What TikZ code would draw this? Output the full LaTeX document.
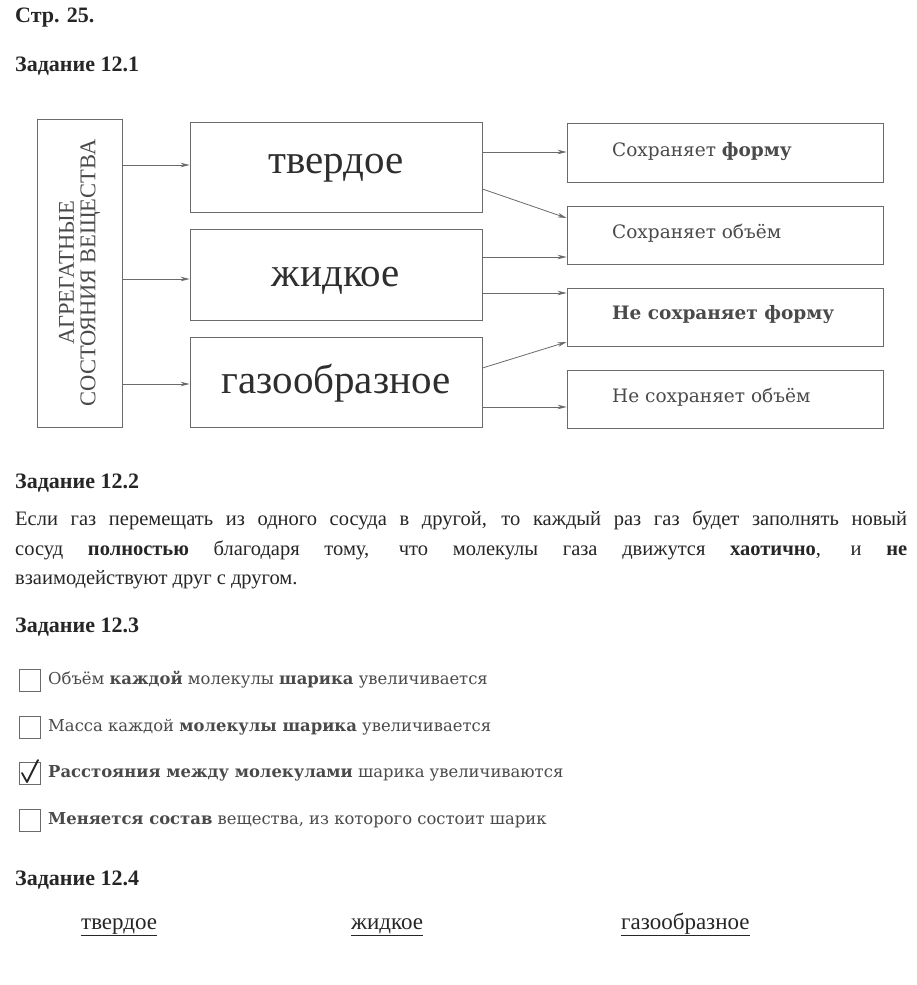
\documentclass[tikz,border=0pt]{standalone}
\usepackage{fontspec}
\setmainfont{Liberation Serif}
\newfontfamily\bookfont{DejaVu Serif}
\usetikzlibrary{arrows.meta,calc}
\definecolor{linegray}{HTML}{6A6A6A}
\definecolor{boxtext}{HTML}{2E2E2E}
\definecolor{booktext}{HTML}{4A4A4A}
\begin{document}
\begin{tikzpicture}[x=1pt,y=-1pt,
  box/.style={draw=linegray, line width=0.9pt, inner sep=0pt},
  arr/.style={draw=linegray, line width=0.8pt, -{Stealth[length=9pt,width=4.5pt]}},
  hd/.style={anchor=west, inner sep=0pt, font=\fontsize{22}{26}\selectfont\bfseries, text=black!85},
  midtext/.style={anchor=base, inner sep=0pt, font=\fontsize{41}{44}\selectfont, text=boxtext},
  rtext/.style={anchor=west, inner sep=0pt, font=\bookfont\fontsize{18.5}{22}\selectfont, text=booktext},
  itemtext/.style={anchor=west, inner sep=0pt, font=\bookfont\fontsize{16.4}{19}\selectfont, text=booktext},
  cbox/.style={draw=linegray, line width=0.8pt, minimum width=21pt, minimum height=22pt, inner sep=0pt},
  ans/.style={anchor=base west, inner sep=0pt, font=\fontsize{23}{26}\selectfont, text=black!85}
]
\fill[white] (0,0) rectangle (917,985);
\useasboundingbox (0,0) rectangle (917,985);

% headings
\node[hd] (h0) at (15,18) {Стр. 25.};
\node[hd] (h1) at (15,66) {Задание 12.1};
\node[hd] (h2) at (15,483) {Задание 12.2};
\node[hd] (h3) at (15,627) {Задание 12.3};
\node[hd] (h4) at (15,880) {Задание 12.4};

% diagram 12.1
\node[box, minimum width=85pt, minimum height=308pt] (L) at (79.5,273) {};
\node[rotate=90, align=center, inner sep=0pt, text=booktext,
      font=\fontsize{22.5}{21.5}\selectfont] (Lt) at (L.center) {АГРЕГАТНЫЕ\\СОСТОЯНИЯ ВЕЩЕСТВА};

\node[box, minimum width=292pt, minimum height=90pt] (S) at (336,167) {};
\node[box, minimum width=292pt, minimum height=91pt] (Lq) at (336,274.5) {};
\node[box, minimum width=292pt, minimum height=90pt] (G) at (336,382) {};
\node[midtext] (St) at ($(S.center)+(0,6)$) {твердое};
\node[midtext] (Lqt) at ($(Lq.center)+(0,12)$) {жидкое};
\node[midtext] (Gt) at ($(G.center)+(0,11)$) {газообразное};

\node[box, minimum width=316pt, minimum height=59pt] (R1) at (725,152.5) {};
\node[box, minimum width=316pt, minimum height=58pt] (R2) at (725,235) {};
\node[box, minimum width=316pt, minimum height=58pt] (R3) at (725,317) {};
\node[box, minimum width=316pt, minimum height=58pt] (R4) at (725,399) {};
\node[rtext] (R1t) at (612,152) {Сохраняет \textbf{форму}};
\node[rtext] (R2t) at (612,233) {Сохраняет объём};
\node[rtext] (R3t) at (612,315) {\textbf{Не сохраняет форму}};
\node[rtext] (R4t) at (612,397) {Не сохраняет объём};

% arrows left -> middle
\draw[arr] ($(L.east)+(0,-108)$) coordinate (a1) -- (a1 -| S.west);
\draw[arr] ($(L.east)+(0,6)$) coordinate (a2) -- (a2 -| Lq.west);
\draw[arr] ($(L.east)+(0,111)$) coordinate (a3) -- (a3 -| G.west);

% arrows middle -> right
\draw[arr] ($(S.east)+(0,-15)$) coordinate (b1) -- (b1 -| R1.west);
\draw[arr] ($(S.east)+(0,22)$) -- ($(R2.west)+(0,-17)$);
\draw[arr] ($(Lq.east)+(0,-17.5)$) coordinate (b3) -- (b3 -| R2.west);
\draw[arr] ($(Lq.east)+(0,18.5)$) coordinate (b4) -- (b4 -| R3.west);
\draw[arr] ($(G.east)+(0,-14)$) -- ($(R3.west)+(0,25)$);
\draw[arr] ($(G.east)+(0,25)$) coordinate (b6) -- (b6 -| R4.west);

% 12.2 paragraph
\node[anchor=north west, inner sep=0pt, text width=892pt, align=justify,
      font=\fontsize{20.5}{29.5}\selectfont, text=black!85] (P) at (15,511)
 {Если газ перемещать из одного сосуда в другой, то каждый раз газ будет заполнять новый\linebreak
  сосуд \textbf{полностью} благодаря тому, что молекулы газа движутся \textbf{хаотично}, и \textbf{не}\linebreak
  взаимодействуют друг с другом.};

% 12.3 checklist
\node[cbox] (c1) at (30,680) {};
\node[cbox] (c2) at (30,727) {};
\node[cbox] (c3) at (30,773) {};
\node[cbox] (c4) at (30,820) {};
\node[itemtext] (t1) at (48,680) {Объём \textbf{каждой} молекулы \textbf{шарика} увеличивается};
\node[itemtext] (t2) at (48,727) {Масса каждой \textbf{молекулы шарика} увеличивается};
\node[itemtext] (t3) at (48,773) {\textbf{Расстояния между молекулами} шарика увеличиваются};
\node[itemtext] (t4) at (48,820) {\textbf{Меняется состав} вещества, из которого состоит шарик};
\draw[black!85, line width=1.8pt, line join=round, line cap=round]
  ($(c3.center)+(-8,0)$) -- ($(c3.center)+(-3,9)$) -- ($(c3.center)+(8,-13)$);

% 12.4 answers
\node[ans] (w1) at (81,929) {\underline{твердое}};
\node[ans] (w2) at (351,929) {\underline{жидкое}};
\node[ans] (w3) at (621,929) {\underline{газообразное}};
\end{tikzpicture}
\end{document}
